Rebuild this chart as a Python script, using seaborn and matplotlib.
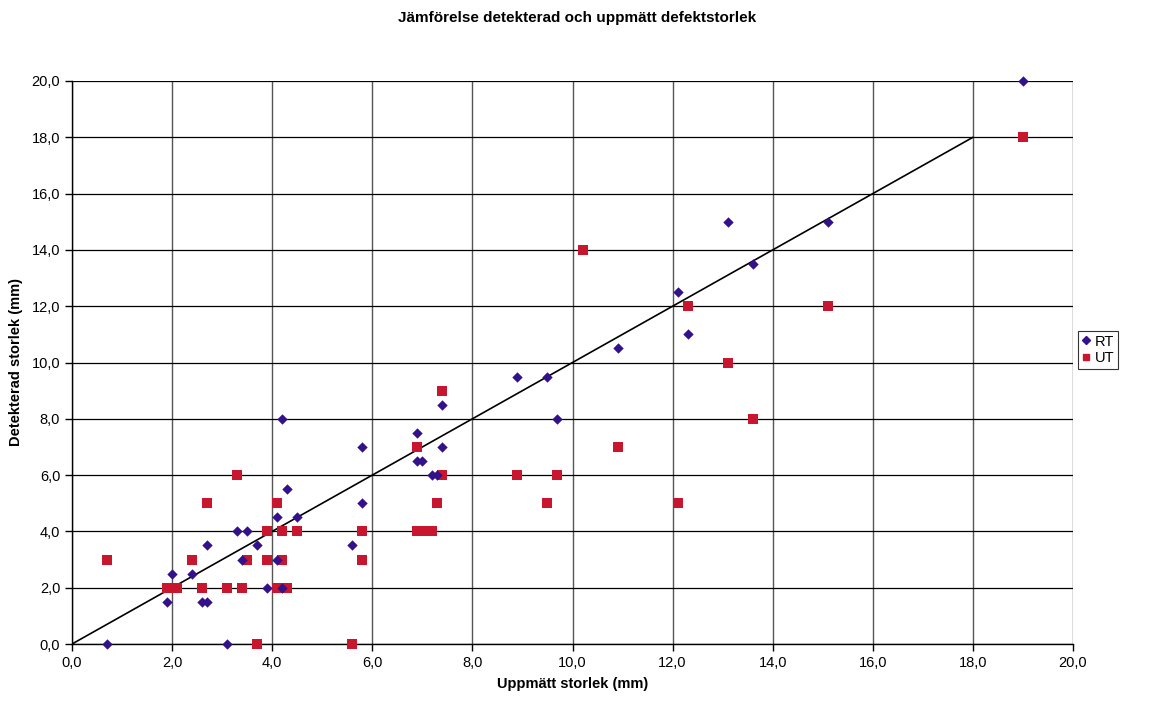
import matplotlib
matplotlib.use("Agg")
import matplotlib.pyplot as plt
import seaborn as sns
import pandas as pd
from matplotlib.ticker import FuncFormatter
from matplotlib.lines import Line2D

# Data
rt_x = [0.7, 1.9, 2.0, 2.4, 2.6, 2.7, 2.7, 3.1, 3.3, 3.4, 3.5, 3.7, 3.9, 4.1, 4.1,
        4.2, 4.2, 4.3, 4.5, 5.6, 5.8, 5.8, 6.9, 6.9, 7.0, 7.2, 7.3, 7.4, 7.4,
        8.9, 9.5, 9.7, 10.9, 12.1, 12.3, 13.1, 13.6, 15.1, 19.0]
rt_y = [0.0, 1.5, 2.5, 2.5, 1.5, 1.5, 3.5, 0.0, 4.0, 3.0, 4.0, 3.5, 2.0, 3.0, 4.5,
        8.0, 2.0, 5.5, 4.5, 3.5, 5.0, 7.0, 7.5, 6.5, 6.5, 6.0, 6.0, 8.5, 7.0,
        9.5, 9.5, 8.0, 10.5, 12.5, 11.0, 15.0, 13.5, 15.0, 20.0]
ut_x = [0.7, 1.9, 2.0, 2.1, 2.4, 2.6, 2.7, 3.1, 3.3, 3.4, 3.5, 3.7, 3.9, 3.9, 4.1,
        4.1, 4.2, 4.2, 4.3, 4.5, 5.6, 5.8, 5.8, 6.9, 6.9, 7.0, 7.2, 7.3, 7.4, 7.4,
        8.9, 9.5, 9.7, 10.2, 10.9, 12.1, 12.3, 13.1, 13.6, 15.1, 19.0]
ut_y = [3.0, 2.0, 2.0, 2.0, 3.0, 2.0, 5.0, 2.0, 6.0, 2.0, 3.0, 0.0, 4.0, 3.0, 5.0,
        2.0, 3.0, 4.0, 2.0, 4.0, 0.0, 4.0, 3.0, 7.0, 4.0, 4.0, 4.0, 5.0, 6.0, 9.0,
        6.0, 5.0, 6.0, 14.0, 7.0, 5.0, 12.0, 10.0, 8.0, 12.0, 18.0]
line_x = [0.0, 18.0]
line_y = [0.0, 18.0]
series = ["RT", "UT"]
x_ticks = [0, 2, 4, 6, 8, 10, 12, 14, 16, 18, 20]
y_ticks = [0, 2, 4, 6, 8, 10, 12, 14, 16, 18, 20]

rt_df = pd.DataFrame({"x": rt_x, "y": rt_y})
ut_df = pd.DataFrame({"x": ut_x, "y": ut_y})

sns.set_style("white")
plt.rcParams["font.family"] = ["Liberation Sans", "DejaVu Sans"]
plt.rcParams["text.color"] = "black"
plt.rcParams["axes.labelcolor"] = "black"
plt.rcParams["xtick.color"] = "black"
plt.rcParams["ytick.color"] = "black"

RT_COL = "#33118A"
UT_COL = "#C8162E"

fig = plt.figure(figsize=(11.55, 7.02), dpi=100)
ax = fig.add_axes([72/1155, 1-644/702, (1073-72)/1155, (644-81)/702])

ax.plot(line_x, line_y, color="black", lw=1.2, zorder=2)
sns.scatterplot(data=rt_df, x="x", y="y", color=RT_COL, marker="D", s=28,
                linewidth=0, ax=ax, zorder=4, clip_on=False)
sns.scatterplot(data=ut_df, x="x", y="y", color=UT_COL, marker="s", s=48,
                linewidth=0, ax=ax, zorder=3, clip_on=False)

ax.set_xlim(0, 20)
ax.set_ylim(0, 20)
ax.set_xticks(x_ticks)
ax.set_yticks(y_ticks)
fmt = FuncFormatter(lambda v, p: f"{v:.1f}".replace(".", ","))
ax.xaxis.set_major_formatter(fmt)
ax.yaxis.set_major_formatter(fmt)
ax.grid(True, axis="y", color="black", lw=0.9)
ax.grid(True, axis="x", color="#555555", lw=1.0)
ax.set_axisbelow(True)
for side in ["top", "right"]:
    ax.spines[side].set_visible(False)
ax.spines["left"].set_color("black")
ax.spines["bottom"].set_color("black")
ax.spines["left"].set_linewidth(1.0)
ax.spines["bottom"].set_linewidth(1.0)
ax.tick_params(axis="both", which="both", direction="out", length=5, width=1,
               color="black", labelsize=10.5, bottom=True, left=True)

ax.set_xlabel("Uppmätt storlek (mm)", fontsize=10.5, fontweight="bold", labelpad=5)
ax.set_ylabel("Detekterad storlek (mm)", fontsize=10.5, fontweight="bold", labelpad=6)
fig.text(0.5, 1-18/702, "Jämförelse detekterad och uppmätt defektstorlek",
         ha="center", va="center", fontsize=11, fontweight="bold", color="black")

handles = [Line2D([], [], marker="D", color=RT_COL, ls="none", markersize=4),
           Line2D([], [], marker="s", color=UT_COL, ls="none", markersize=5)]
leg = fig.legend(handles, series, loc="center left",
                 bbox_to_anchor=(1078/1155, 1-350/702), frameon=True,
                 fontsize=10.5, handlelength=0.6, handletextpad=0.3,
                 borderpad=0.25, labelspacing=0.2, fancybox=False,
                 borderaxespad=0)
leg.get_frame().set_edgecolor("black")
leg.get_frame().set_linewidth(0.8)

fig.savefig("out.png", dpi=100)
